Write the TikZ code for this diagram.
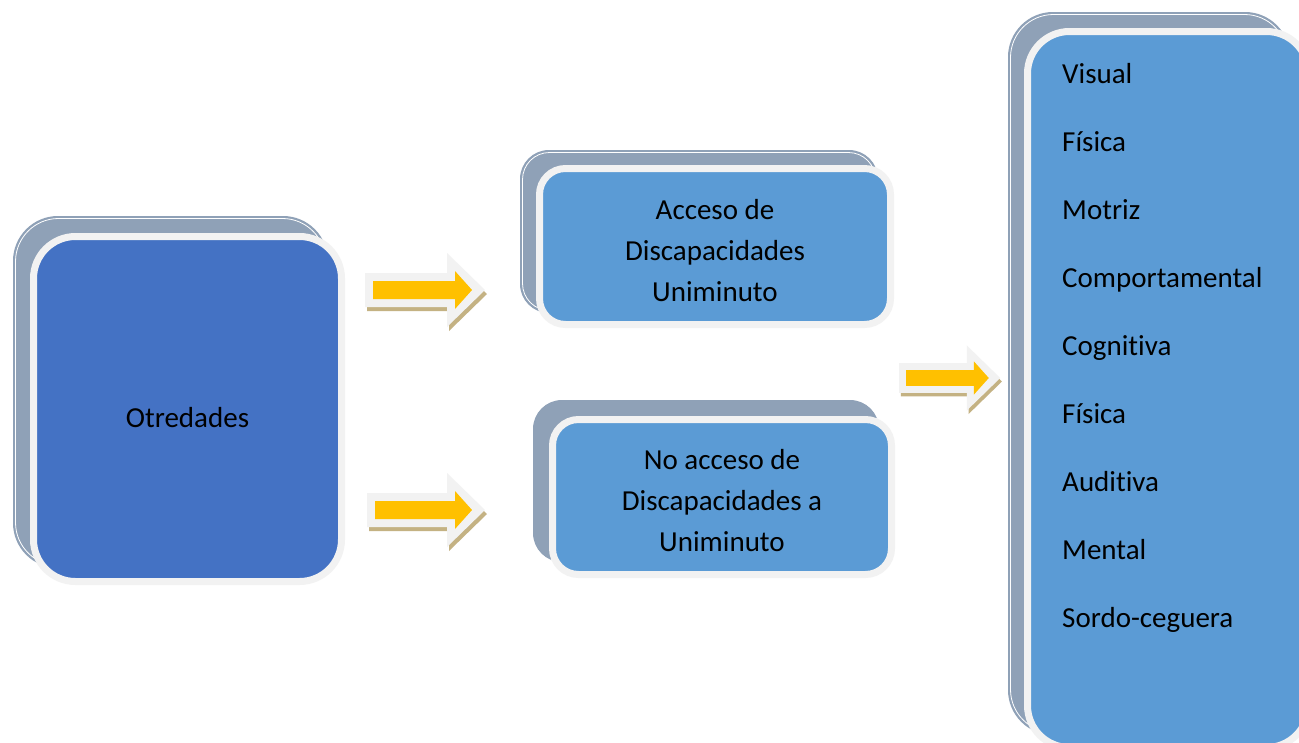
\documentclass[tikz,border=0pt]{standalone}
\usepackage{fontspec}
\setmainfont{Carlito}[Ligatures={NoCommon}]
\definecolor{backgray}{RGB}{143,161,183}
\definecolor{framew}{RGB}{242,242,242}
\definecolor{darkblue}{RGB}{68,114,196}
\definecolor{lightblue}{RGB}{91,155,213}
\definecolor{arryel}{RGB}{255,192,0}
\definecolor{arrtan}{RGB}{196,178,131}
\tikzset{
  backbox/.style={fill=backgray},
  backline/.style={draw=white, line width=0.8pt},
  frontbox/.style={draw=framew, line width=7pt, inner sep=0pt, outer sep=0pt, rectangle},
  boxtext/.style={font=\fontsize{29}{41}\selectfont, align=center, text=black, inner sep=0pt},
  listtext/.style={font=\fontsize{29}{41}\selectfont, anchor=base west, inner sep=0pt, text=black},
}
\newcommand\blockarr[4]{%
  \begin{scope}[shift={(#1,#2)}, scale=#4]
    \fill[arrtan, shift={(2,4)}] (0,-17) -- ({#3-38},-17) -- ({#3-38},-37) -- (#3,0) -- ({#3-38},37) -- ({#3-38},17) -- (0,17) -- cycle;
    \fill[framew] (0,-17) -- ({#3-38},-17) -- ({#3-38},-37) -- (#3,0) -- ({#3-38},37) -- ({#3-38},17) -- (0,17) -- cycle;
    \fill[arryel] (8,-9) -- ({#3-30},-9) -- ({#3-30},-19) -- ({#3-13},0) -- ({#3-30},19) -- ({#3-30},9) -- (8,9) -- cycle;
  \end{scope}}
\begin{document}
\begin{tikzpicture}[x=1pt, y=-1pt]
\useasboundingbox (0,0) rectangle (1299,742);
\clip (0,0) rectangle (1299,742);
\fill[white] (0,0) rectangle (1299,742);

% Box 1: Otredades
\fill[backbox, rounded corners=45] (13,216) rectangle (328,568);
\draw[backline, rounded corners=43] (15.5,218.5) rectangle (325.5,565.5);
\node[frontbox, fill=darkblue, rounded corners=42, minimum width=308, minimum height=345] (otr) at (187.5,409) {};
\node[font=\fontsize{29}{41}\selectfont, anchor=base, inner sep=0pt] (otrtext) at (187.5,427) {Otredades};

% Box 2
\fill[backbox, rounded corners=29] (520,150) rectangle (878,313);
\draw[backline, rounded corners=27] (522.5,152.5) rectangle (875.5,310.5);
\node[frontbox, fill=lightblue, rounded corners=26, minimum width=351, minimum height=156] (acc) at (715,246.5) {};
\node[boxtext] (acctext) at (715,250.5) {Acceso de\\Discapacidades\\Uniminuto};

% Box 3
\fill[backbox, rounded corners=29] (533,400) rectangle (879,562);
\node[frontbox, fill=lightblue, rounded corners=26, minimum width=339, minimum height=155] (noacc) at (722,497) {};
\node[boxtext] (noacctext) at (722,501) {No acceso de\\Discapacidades a\\Uniminuto};

% Box 4
\fill[backbox, rounded corners=45] (1008,12) rectangle (1290,735);
\draw[backline, rounded corners=43] (1010.5,14.5) rectangle (1287.5,732.5);
\node[frontbox, fill=lightblue, rounded corners=42, minimum width=281, minimum height=716] (types) at (1168,389.5) {};
\node[listtext] (l1) at (1062,83) {Visual};
\node[listtext] (l2) at (1062,151) {Física};
\node[listtext] (l3) at (1062,219) {Motriz};
\node[listtext] (l4) at (1062,287) {Comportamental};
\node[listtext] (l5) at (1062,355) {Cognitiva};
\node[listtext] (l6) at (1062,423) {Física};
\node[listtext] (l7) at (1062,491) {Auditiva};
\node[listtext] (l8) at (1062,559) {Mental};
\node[listtext] (l9) at (1062,627) {Sordo-ceguera};

% Arrows
\blockarr{365}{290}{120}{1}
\blockarr{367}{510}{118}{1}
\blockarr{899}{378}{115}{0.88}
\end{tikzpicture}
\end{document}
